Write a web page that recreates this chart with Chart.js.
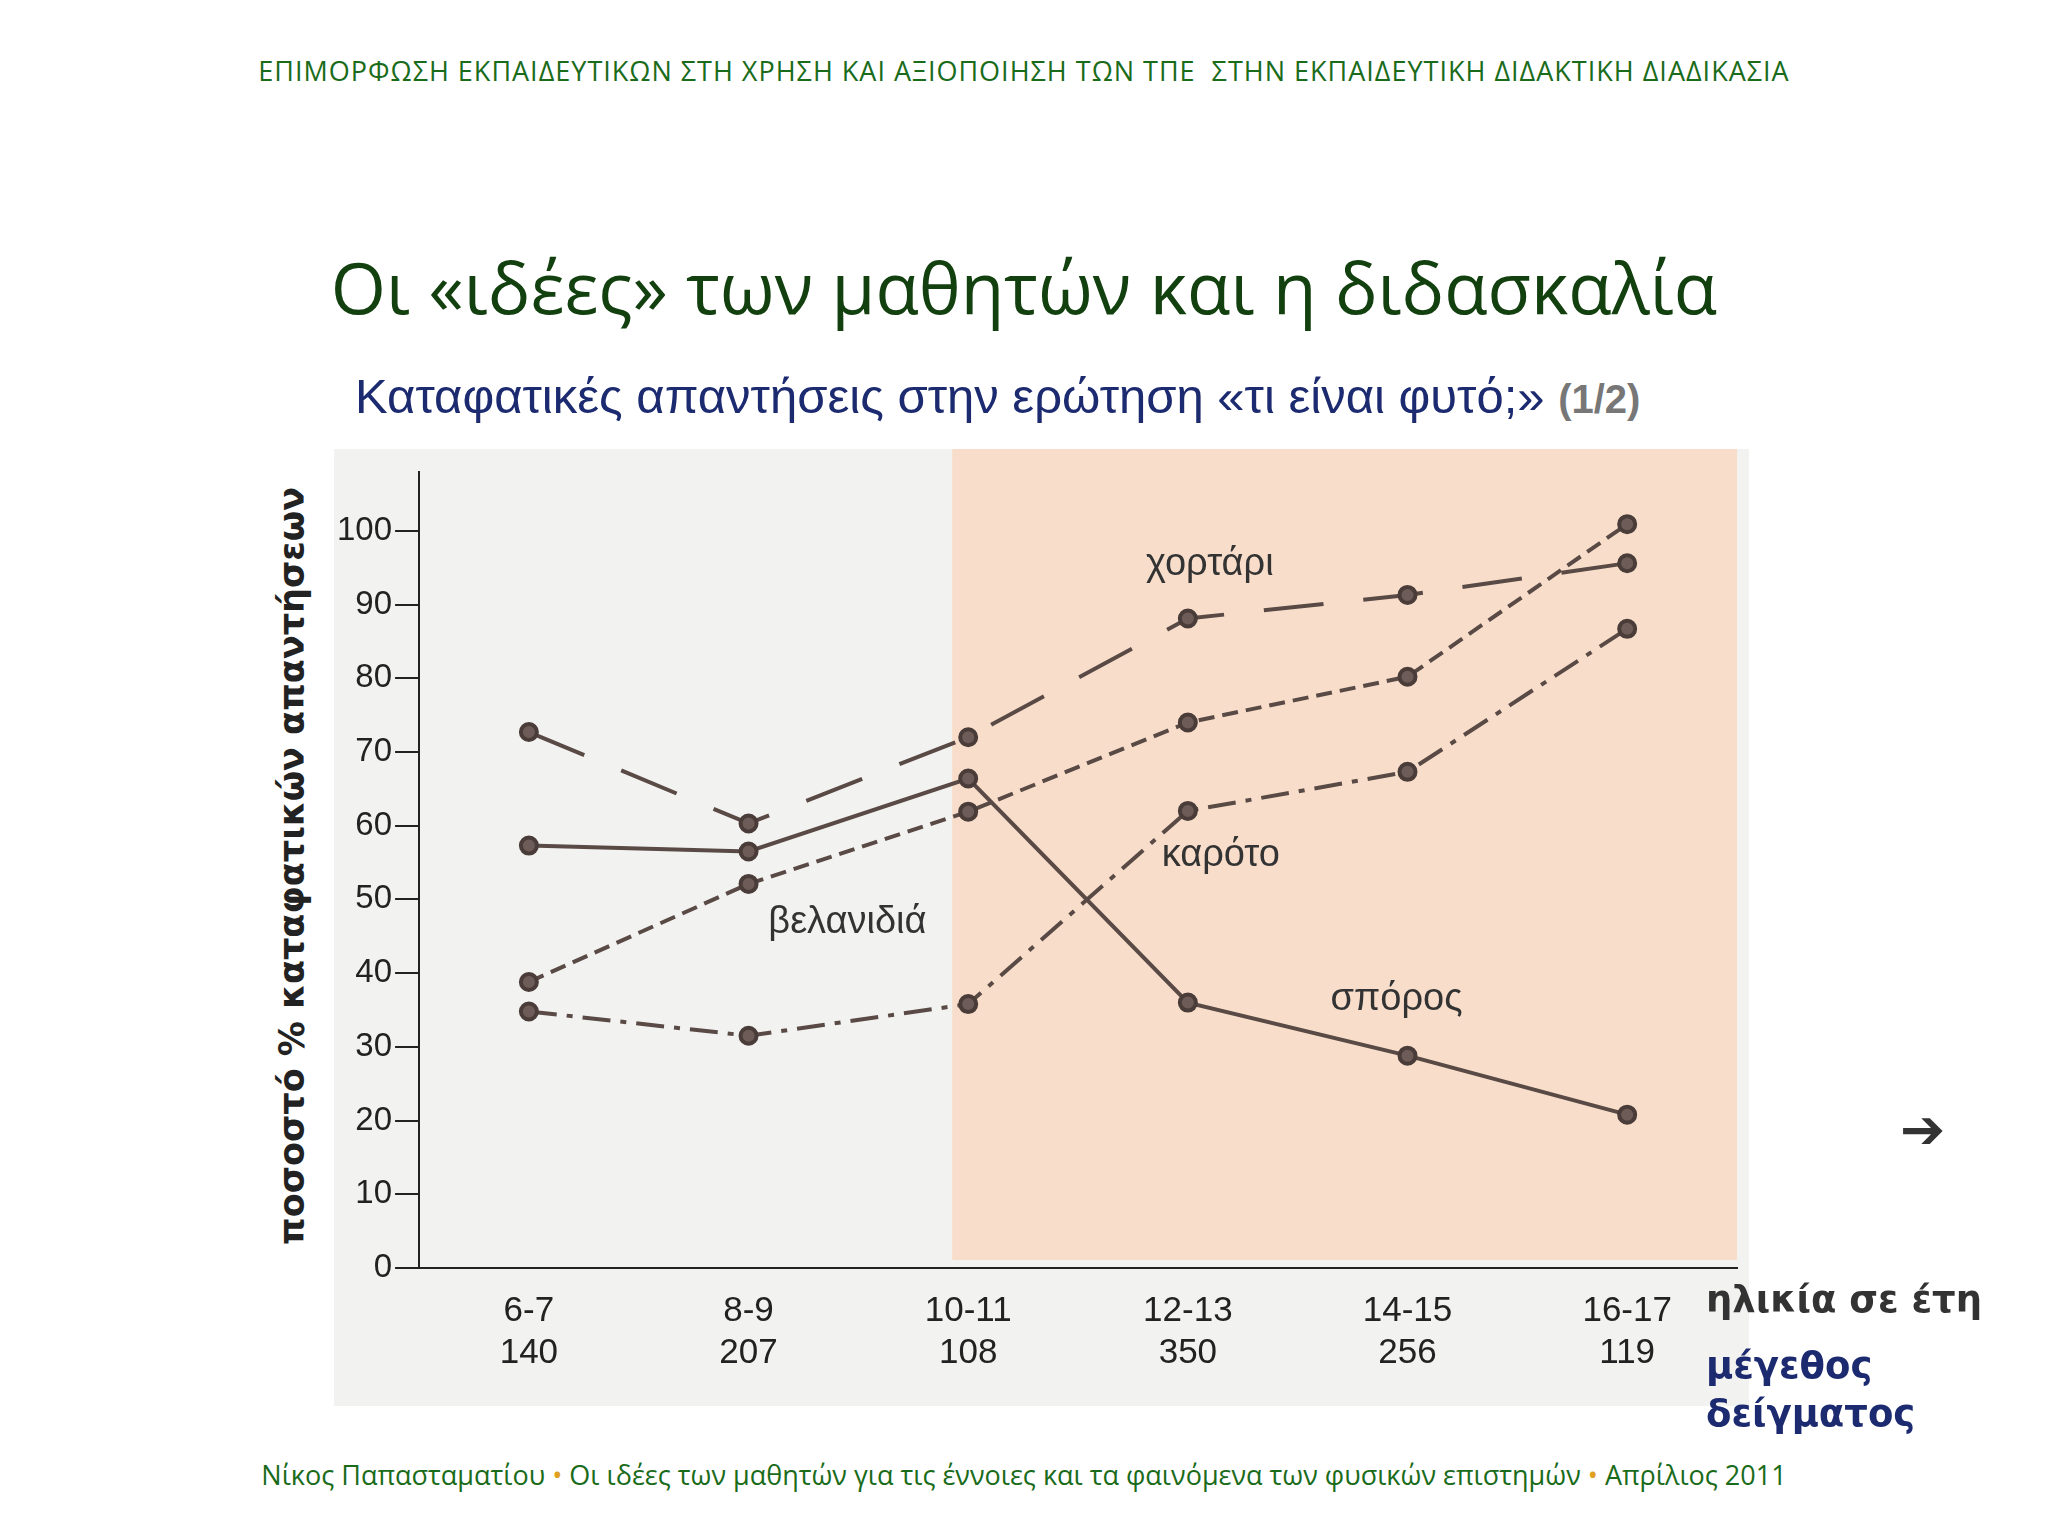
<!DOCTYPE html>
<html><head><meta charset="utf-8">
<script src="https://cdn.jsdelivr.net/npm/chart.js@4/dist/chart.umd.min.js"></script>
<style>
body{margin:0;width:2048px;height:1536px;background:#fff;position:relative;overflow:hidden;font-family:"Open Sans",sans-serif}
.abs{position:absolute;white-space:nowrap}
#hdr{left:0;width:2048px;text-align:center;top:52px;font-size:27px;color:#1a6b1a;letter-spacing:1px}
#ttl{left:0;width:2048px;text-align:center;top:238px;font-size:71px;color:#12400f}
#sub{left:355px;top:368px;font-size:49px;color:#1c2a70;font-family:"Liberation Sans",sans-serif}
#sub b{color:#777;font-size:40px}
#ytitle{left:272px;top:1245px;transform:rotate(-90deg);transform-origin:0 0;font-size:35px;font-weight:bold;color:#222;font-family:"DejaVu Sans",sans-serif}
#xlab{left:1706px;top:1278px;font-size:37px;font-weight:bold;color:#333;font-family:"DejaVu Sans",sans-serif}
#slab{left:1706px;top:1342px;font-size:37px;font-weight:bold;color:#1c2a70;font-family:"DejaVu Sans",sans-serif;line-height:48px}
#arr{left:1900px;top:1090px;font-size:54px;color:#333}
#foot{left:0;width:2048px;text-align:center;top:1456px;font-size:27px;color:#1a6b1a}
#foot span{color:#e0a020}
#wrap{left:334px;top:449px;width:1415px;height:957px;background:#f2f2f0}
</style></head><body>
<div class="abs" id="hdr">ΕΠΙΜΟΡΦΩΣΗ ΕΚΠΑΙΔΕΥΤΙΚΩΝ ΣΤΗ ΧΡΗΣΗ ΚΑΙ ΑΞΙΟΠΟΙΗΣΗ ΤΩΝ ΤΠΕ &nbsp;ΣΤΗΝ ΕΚΠΑΙΔΕΥΤΙΚΗ ΔΙΔΑΚΤΙΚΗ ΔΙΑΔΙΚΑΣΙΑ</div>
<div class="abs" id="ttl">Οι «ιδέες» των μαθητών και η διδασκαλία</div>
<div class="abs" id="sub">Καταφατικές απαντήσεις στην ερώτηση «τι είναι φυτό;» <b>(1/2)</b></div>
<div class="abs" id="wrap"><canvas id="c" width="1415" height="957"></canvas></div>
<div class="abs" id="ytitle">ποσοστό % καταφατικών απαντήσεων</div>
<div class="abs" id="xlab">ηλικία σε έτη</div>
<div class="abs" id="slab">μέγεθος<br>δείγματος</div>
<div class="abs" id="arr">➔</div>
<div class="abs" id="foot">Νίκος Παπασταματίου <span>•</span> Οι ιδέες των μαθητών για τις έννοιες και τα φαινόμενα των φυσικών επιστημών <span>•</span> Απρίλιος 2011</div>
<script>
const ages=["6-7","8-9","10-11","12-13","14-15","16-17"];
const samples=["140","207","108","350","256","119"];
const yTicks=[0,10,20,30,40,50,60,70,80,90,100];
const grass=[72.7,60.3,72,88.1,91.3,95.6];
const seed=[57.3,56.5,66.4,36,28.8,20.8];
const oak=[38.8,52.1,61.9,74,80.2,100.9];
const carrot=[34.8,31.5,35.8,62,67.3,86.7];
const labels=[{t:"χορτάρι",x:3.1,y:94},{t:"βελανιδιά",x:1.45,y:45.5},{t:"καρότο",x:3.15,y:54.5},{t:"σπόρος",x:3.95,y:35}];
const col="#5a4a45";
const ds=(d,dash)=>({data:d,borderColor:col,backgroundColor:col,borderWidth:4,borderDash:dash,pointRadius:8,pointBackgroundColor:"#6e5c58",pointBorderColor:"#4a3c38",tension:0});
const bg={id:"bg",beforeDatasetsDraw(ch){const{ctx,chartArea:a,scales:{x}}=ch;ctx.save();ctx.fillStyle="rgba(250,215,190,0.75)";const l=x.getPixelForValue(2)-16;ctx.fillRect(l,0,ch.width-12-l,a.bottom-8);ctx.restore();}};
const lab={id:"lab",afterDatasetsDraw(ch){const{ctx,scales:{x,y}}=ch;ctx.save();ctx.font="38px 'Liberation Sans'";ctx.fillStyle="#333";ctx.textAlign="center";labels.forEach(o=>ctx.fillText(o.t,x.getPixelForValue(o.x),y.getPixelForValue(o.y)));ctx.restore();}};
new Chart(document.getElementById("c"),{type:"line",
data:{labels:ages.map((a,i)=>[a,samples[i]]),datasets:[ds(grass,[60,40]),ds(seed,[]),ds(oak,[16,8]),ds(carrot,[28,10,6,10])]},
options:{responsive:false,animation:false,plugins:{legend:{display:false},tooltip:{enabled:false}},
layout:{padding:{left:0,right:12,top:0,bottom:18}},
scales:{x:{offset:true,grid:{display:false},border:{color:"#222",width:2},ticks:{color:"#222",font:{size:35,family:"Liberation Sans"},padding:14}},
y:{min:0,max:108,afterBuildTicks(s){s.ticks=yTicks.map(v=>({value:v}));},grid:{drawOnChartArea:false,tickLength:24,color:"#222",lineWidth:2},border:{color:"#222",width:2},ticks:{color:"#222",font:{size:33,family:"Liberation Sans"}}}}},
plugins:[bg,lab]});
</script></body></html>
